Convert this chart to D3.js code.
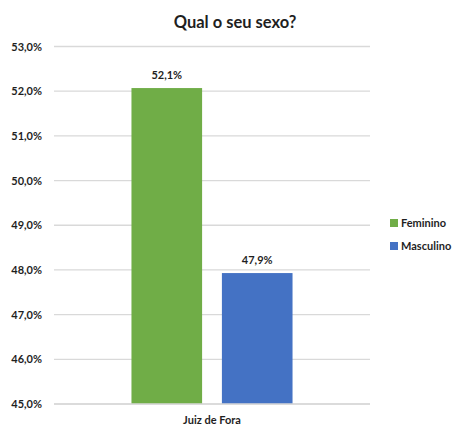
<!DOCTYPE html>
<html>
<head>
<meta charset="utf-8">
<script src="https://cdn.jsdelivr.net/npm/d3@7"></script>
<style>
	body { margin: 0; background: #fff; }
	text { font-family: Lato, "Open Sans", sans-serif; fill: #1f1f1f; }
</style>
</head>
<body>
<svg id="chart" width="454" height="426"></svg>
<script>
'use strict';

// data
var categories = ["Juiz de Fora"];
var series = ["Feminino", "Masculino"];
var values = [52.07, 47.93];
var value_labels = ["52,1%", "47,9%"];
var colors = ["#70ad47", "#4472c4"];
var y_ticks = [45, 46, 47, 48, 49, 50, 51, 52, 53];

var svg = d3.select("#chart");
var plot_left = 54, plot_right = 370, plot_top = 46.5, plot_bottom = 404;

var y = d3.scaleLinear().domain([45, 53]).range([plot_bottom, plot_top]);
var x0 = d3.scaleBand().domain(categories).range([plot_left, plot_right]).paddingOuter(0.481);
var x1 = d3.scaleBand().domain(series).range([0, x0.bandwidth()]).paddingInner(0.219);

// title (centred on the whole chart area, which runs past the right edge)
svg.append("text")
	.attr("x", 235).attr("y", 28)
	.attr("text-anchor", "middle")
	.style("font-size", "16.5px").style("font-weight", "bold")
	.text("Qual o seu sexo?");

// gridlines
svg.append("g").selectAll("line")
	.data(y_ticks).enter().append("line")
	.attr("x1", plot_left).attr("x2", plot_right)
	.attr("y1", function(d){ return y(d); })
	.attr("y2", function(d){ return y(d); })
	.attr("stroke", "#d9d9d9").attr("stroke-width", 1.3);

// y axis labels
var fmt = function(d){ return d.toFixed(1).replace(".", ",") + "%"; };
var yAxis = d3.axisLeft(y).tickValues(y_ticks).tickFormat(fmt).tickSize(0).tickPadding(12);
var ya = svg.append("g").attr("transform", "translate(" + plot_left + ",0)").call(yAxis);
ya.select(".domain").remove();
ya.attr("font-family", null);
ya.selectAll("text").style("font-size", "11px").style("font-weight", "bold")
	.attr("fill", "#1f1f1f");

// bars
var g = svg.append("g").attr("transform", "translate(" + x0(categories[0]) + ",0)");
g.selectAll("rect").data(values).enter().append("rect")
	.attr("x", function(d, i){ return x1(series[i]); })
	.attr("y", function(d){ return y(d); })
	.attr("width", x1.bandwidth())
	.attr("height", function(d){ return plot_bottom - y(d); })
	.attr("fill", function(d, i){ return colors[i]; });

g.selectAll(".lbl").data(values).enter().append("text")
	.attr("class", "lbl")
	.attr("x", function(d, i){ return x1(series[i]) + x1.bandwidth() / 2; })
	.attr("y", function(d){ return y(d) - 9; })
	.attr("text-anchor", "middle")
	.style("font-size", "11px").style("font-weight", "bold")
	.text(function(d, i){ return value_labels[i]; });

// x axis line + category
svg.append("line")
	.attr("x1", plot_left).attr("x2", plot_right).attr("y1", plot_bottom).attr("y2", plot_bottom)
	.attr("stroke", "#d9d9d9").attr("stroke-width", 1.3);
svg.selectAll(".cat").data(categories).enter().append("text")
	.attr("class", "cat")
	.attr("x", function(d){ return x0(d) + x0.bandwidth() / 2; })
	.attr("y", 424)
	.attr("text-anchor", "middle")
	.style("font-size", "11px").style("font-weight", "bold")
	.text(function(d){ return d; });

// legend
var leg = svg.append("g").selectAll("g").data(series).enter().append("g")
	.attr("transform", function(d, i){ return "translate(390," + (219 + i * 23) + ")"; });
leg.append("rect").attr("width", 8).attr("height", 8)
	.attr("fill", function(d, i){ return colors[i]; });
leg.append("text").attr("x", 11).attr("y", 8)
	.style("font-size", "11px").style("font-weight", "bold")
	.text(function(d){ return d; });
</script>
</body>
</html>
